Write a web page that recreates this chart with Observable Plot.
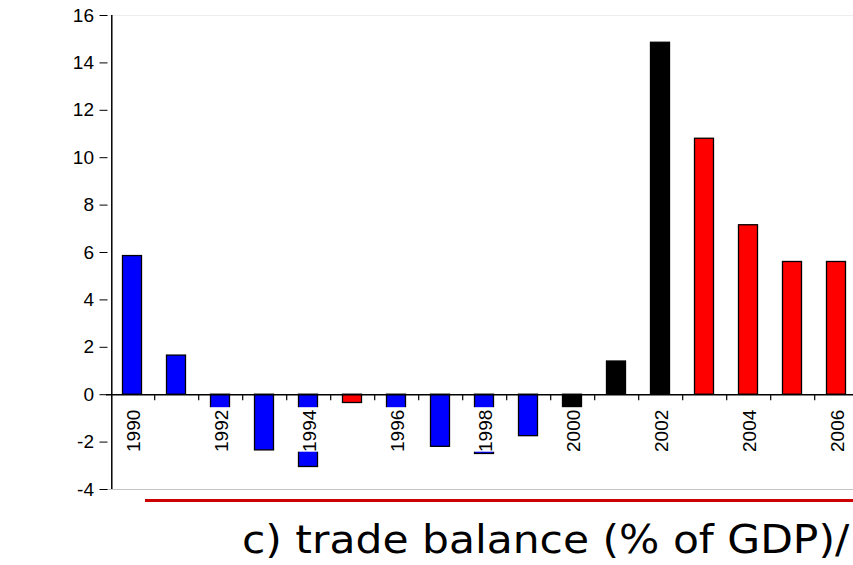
<!DOCTYPE html>
<html><head><meta charset="utf-8">
<script src="https://cdn.jsdelivr.net/npm/d3@7"></script>
<script src="https://cdn.jsdelivr.net/npm/@observablehq/plot@0.6"></script>
<style>
html,body{margin:0;padding:0;background:#fff;overflow:hidden;width:853px;height:565px}
#wrap{position:relative;width:853px;height:565px;overflow:hidden}
#chart{position:absolute;left:0;top:0;width:870px;height:500px}
#chart svg{max-width:none !important;width:870px !important;height:500px !important}
#redline{position:absolute;left:145px;top:499px;width:720px;height:3px;background:#cc0000}
#caption{position:absolute;left:242px;top:520px;font-family:"DejaVu Sans";font-size:39px;line-height:39px;white-space:nowrap;color:#000;transform:scaleX(1.088);transform-origin:0 0}
</style></head><body>
<div id="wrap"><div id="chart"></div><div id="redline"></div><div id="caption"></div></div>
<script>
const years = ["1990","1991","1992","1993","1994","1995","1996","1997","1998","1999","2000","2001","2002","2003","2004","2005","2006"];
const values = [5.85, 1.65, -1.0, -2.35, -3.05, -0.35, -1.0, -2.2, -2.5, -1.75, -0.8, 1.4, 14.85, 10.8, 7.15, 5.6, 5.6];
const periods = ["peg","peg","peg","peg","peg","post","peg","peg","peg","peg","crisis","crisis","crisis","post","post","post","post"];
const periodNames = ["peg","crisis","post"];
const periodColors = ["#0000ff","#000000","#ff0000"];
const yTicks = [-4,-2,0,2,4,6,8,10,12,14,16];
const yearLabels = years.filter((d,i) => i % 2 === 0);
const captionText = "c) trade balance (% of GDP)/";

const data = years.map((y,i) => ({year: y, value: values[i], period: periods[i]}));

const W = 870, mL = 106, mR = 9;
const step = (W - mL - mR) / years.length;

const chart = Plot.plot({
  width: W, height: 500,
  marginTop: 15, marginBottom: 11, marginLeft: mL, marginRight: mR,
  style: {color: "black", background: "white", fontFamily: "Liberation Sans", maxWidth: "none"},
  x: {type: "band", domain: years, padding: 0, axis: null},
  y: {domain: [-4, 16], axis: null},
  color: {domain: periodNames, range: periodColors},
  marks: [
    Plot.ruleY([16], {stroke: "#eeeeee"}),
    Plot.ruleY([-4], {stroke: "#c4c4c4"}),
    Plot.barY(data, {x: "year", y: "value", fill: "period", stroke: "black", strokeWidth: 1.3, insetLeft: 12.5, insetRight: 12.5}),
    Plot.barY(yearLabels, {x: d => d, y1: 0, y2: 0, fill: "white", insetLeft: 11, insetRight: 11, insetTop: 13, insetBottom: -57.5}),
    Plot.text(yearLabels, {x: d => d, y: 0, text: d => d, rotate: -90, textAnchor: "end", lineAnchor: "middle", dy: 15, dx: 1.5, fontSize: 19, fill: "black"}),
    Plot.ruleY([0], {strokeWidth: 1.5}),
    Plot.ruleX(years.slice(0, -1), {x: d => d, y1: 0, y2: 0, dx: step / 2, insetBottom: -6, strokeWidth: 1.2}),
    Plot.ruleX(["1990"], {x: d => d, y1: -4, y2: 16, dx: -step / 2 + 1.5, strokeWidth: 1.5}),
    Plot.axisY(yTicks, {label: null, tickSize: 8, tickPadding: 6, dx: 1.5, fontSize: 19, tickFormat: d => String(d)})
  ]
});
document.getElementById("chart").appendChild(chart);
document.getElementById("caption").textContent = captionText;
</script>
</body></html>
